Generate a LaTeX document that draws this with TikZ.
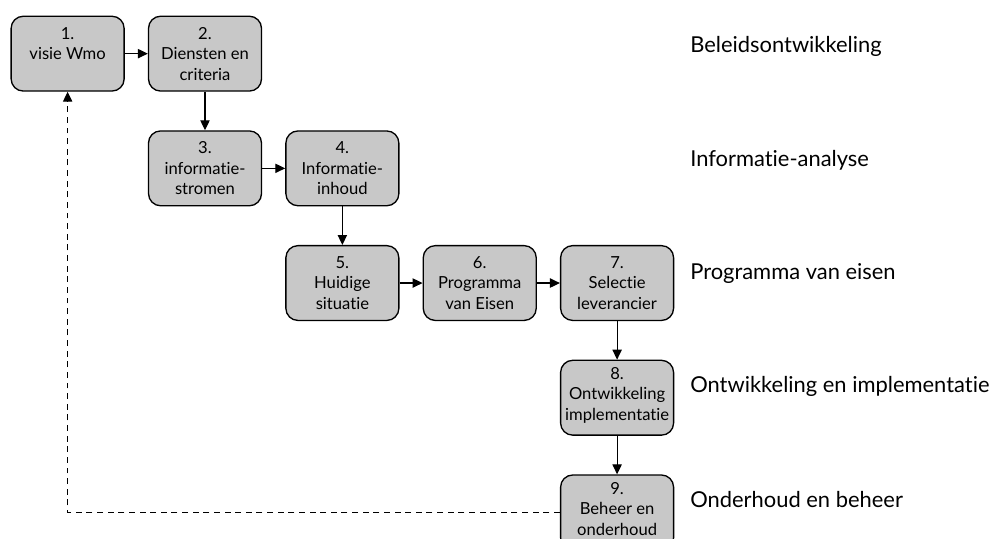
\documentclass[tikz,border=0pt]{standalone}
\usepackage{fontspec}
\setmainfont{Lato}[Ligatures=NoCommon]
\usetikzlibrary{arrows.meta,positioning}

\begin{document}
\begin{tikzpicture}[
  stap/.style={draw, rounded corners=0.32cm, fill=gray!43, align=center,
    font=\fontsize{12.5}{15.5}\selectfont, minimum width=2.99cm,
    minimum height=1.98cm, inner sep=1pt, line width=1pt},
  hoger/.style={text depth=0.2cm},
  fase/.style={anchor=west, inner sep=0pt, font=\fontsize{16.5}{20}\selectfont},
  pijl/.style={-{Triangle[length=7.5pt,width=7pt]}, line width=0.9pt},
  node distance=1.02cm and 0.61cm
]
  \useasboundingbox (0,0) rectangle (26.49,-14.24);
  % stappen
  \node[stap] (s1) at (1.79,-1.42) {1.\\visie Wmo\\\mbox{}};
  \node[stap, right=of s1] (s2) {2.\\Diensten en\\criteria};
  \node[stap, below=of s2] (s3) {3.\\informatie-\\stromen};
  \node[stap, right=of s3] (s4) {4.\\Informatie-\\inhoud};
  \node[stap, below=of s4] (s5) {5.\\Huidige\\situatie};
  \node[stap, right=of s5] (s6) {6.\\Programma\\van Eisen};
  \node[stap, right=of s6] (s7) {7.\\Selectie\\leverancier};
  \node[stap, hoger, below=of s7] (s8) {8.\\Ontwikkeling\\implementatie};
  \node[stap, hoger, below=of s8] (s9) {9.\\Beheer en\\onderhoud};
  % fasen
  \node[fase] (f1) at (18.26,-1.23) {Beleidsontwikkeling};
  \node[fase] (f2) at (18.26,-4.24) {Informatie-analyse};
  \node[fase] (f3) at (18.26,-7.23) {Programma van eisen};
  \node[fase] (f4) at (18.26,-10.22) {Ontwikkeling en implementatie};
  \node[fase] (f5) at (18.26,-13.23) {Onderhoud en beheer};
  % pijlen
  \draw[pijl] (s1) -- (s2);
  \draw[pijl] (s2) -- (s3);
  \draw[pijl] (s3) -- (s4);
  \draw[pijl] (s4) -- (s5);
  \draw[pijl] (s5) -- (s6);
  \draw[pijl] (s6) -- (s7);
  \draw[pijl] (s7) -- (s8);
  \draw[pijl] (s8) -- (s9);
  \draw[pijl, dashed, dash pattern=on 4.5pt off 3.5pt] (s9.west) -| (s1.south);
\end{tikzpicture}
\end{document}
